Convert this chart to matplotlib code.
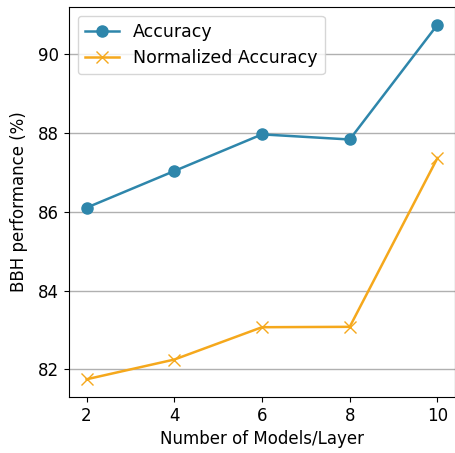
import matplotlib
matplotlib.use("Agg")
import matplotlib.pyplot as plt

models = [2, 4, 6, 8, 10]
accuracy = [86.10, 87.03, 87.96, 87.83, 90.74]
norm_accuracy = [81.75, 82.25, 83.07, 83.08, 87.36]

fig = plt.figure(figsize=(4.56, 4.53), dpi=100)
ax = fig.add_axes([69/456, 56/453, 386/456, 390/453])

ax.plot(models, accuracy, color="#2E86AB", marker="o", markersize=8, linewidth=1.8, label="Accuracy")
ax.plot(models, norm_accuracy, color="#F5A81C", marker="x", markersize=8, linewidth=1.8, label="Normalized Accuracy")

ax.yaxis.grid(True, color="#b0b0b0", linewidth=1)
ax.set_axisbelow(True)
ax.set_xticks(models)
ax.set_yticks([82, 84, 86, 88, 90])
ax.tick_params(labelsize=12)
ax.set_xlabel("Number of Models/Layer", fontsize=12)
ax.set_ylabel("BBH performance (%)", fontsize=12, labelpad=7)
ax.legend(loc="upper left", fontsize=12.5)

fig.savefig("out.png", dpi=100)
